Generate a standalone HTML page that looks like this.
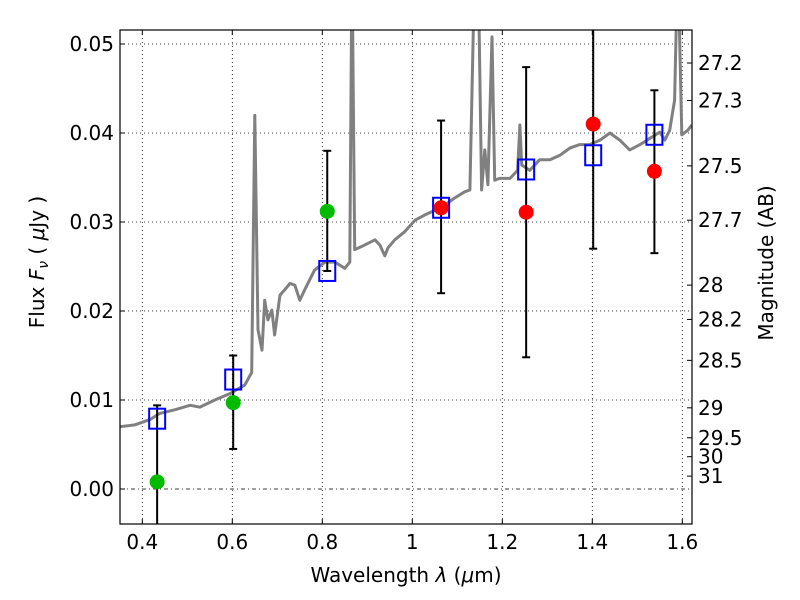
<!DOCTYPE html>
<html><head><meta charset="utf-8"><style>
body{margin:0;background:#fff;}
svg{display:block;font-family:"DejaVu Sans","Liberation Sans",sans-serif;}
</style></head><body>
<svg id="chart" width="800" height="600" viewBox="0 0 800 600"></svg>
<script>
const xTicks=[0.4,0.6,0.8,1.0,1.2,1.4,1.6];
const xTickLabels=["0.4","0.6","0.8","1","1.2","1.4","1.6"];
const yTicks=[0,0.01,0.02,0.03,0.04,0.05];
const yTickLabels=["0.00","0.01","0.02","0.03","0.04","0.05"];
const magTicks=[27.2,27.3,27.5,27.7,28,28.2,28.5,29,29.5,30,31];
const magLabels=["27.2","27.3","27.5","27.7","28","28.2","28.5","29","29.5","30","31"];
const bandWave=[0.433,0.602,0.811,1.064,1.253,1.402,1.538];
const modelFlux=[0.0079,0.0123,0.0245,0.0316,0.0359,0.0375,0.0398];
const errHigh=[0.0094,0.015,0.038,0.0414,0.0474,0.06,0.0448];
const errLow=[-0.01,0.0045,0.0245,0.022,0.0148,0.027,0.0265];
const greenWave=[0.433,0.602,0.811];
const greenFlux=[0.0008,0.0097,0.0312];
const redWave=[1.064,1.253,1.402,1.538];
const redFlux=[0.0316,0.0311,0.0410,0.0357];
const specWave=[0.35,0.383,0.417,0.439,0.472,0.506,0.528,0.561,0.594,0.628,0.643,0.65,0.657,0.666,0.672,0.679,0.688,0.694,0.706,0.717,0.728,0.739,0.75,0.761,0.783,0.806,0.828,0.85,0.861,0.866,0.872,0.894,0.917,0.928,0.939,0.946,0.961,0.983,1.006,1.028,1.05,1.072,1.094,1.117,1.128,1.139,1.146,1.154,1.161,1.168,1.177,1.183,1.194,1.217,1.234,1.239,1.243,1.261,1.283,1.306,1.328,1.35,1.372,1.394,1.417,1.439,1.461,1.483,1.506,1.528,1.55,1.561,1.572,1.583,1.59,1.599,1.612,1.621];
const specFlux=[0.0070,0.0072,0.0078,0.0085,0.0089,0.0094,0.0092,0.0100,0.0107,0.0117,0.0131,0.0420,0.0179,0.0156,0.0212,0.0190,0.0201,0.0173,0.0218,0.0224,0.0231,0.0229,0.0212,0.0224,0.0246,0.0255,0.0255,0.0248,0.0255,0.06,0.0269,0.0274,0.0280,0.0274,0.0262,0.0271,0.0280,0.0289,0.0302,0.0308,0.0313,0.0319,0.0327,0.0334,0.0336,0.06,0.06,0.0336,0.0381,0.0342,0.0508,0.0347,0.0349,0.0349,0.0358,0.0409,0.0364,0.0358,0.0370,0.0370,0.0375,0.0383,0.0387,0.0387,0.0392,0.0400,0.0392,0.0381,0.0387,0.0394,0.0401,0.0392,0.0403,0.0437,0.06,0.0398,0.0403,0.0409];

const L=120,R=692,T=30,B=524;
const X=v=>142.3+(v-0.4)*450;
const Y=v=>489-v*8900;
const svg=document.getElementById('chart');
const NS='http://www.w3.org/2000/svg';
function mk(tag,attrs,parent){const e=document.createElementNS(NS,tag);for(const k in attrs)e.setAttribute(k,attrs[k]);(parent||svg).appendChild(e);return e;}
const defs=mk('defs',{});const cp=mk('clipPath',{id:'pc'},defs);mk('rect',{x:L,y:T,width:R-L,height:B-T},cp);

xTicks.forEach((t,i)=>{
 let g=mk('line',{x1:X(t),x2:X(t),y1:T,y2:B,stroke:'#000','stroke-dasharray':'1,3','stroke-width':0.8});
 
 mk('line',{x1:X(t),x2:X(t),y1:B,y2:B-5,stroke:'#000'});mk('line',{x1:X(t),x2:X(t),y1:T,y2:T+5,stroke:'#000'});
 let lb=mk('text',{x:X(t),y:B+25,'text-anchor':'middle','font-size':20});lb.textContent=xTickLabels[i];
 
});
yTicks.forEach((t,i)=>{
 let g=mk('line',{x1:L,x2:R,y1:Y(t),y2:Y(t),stroke:'#000','stroke-dasharray':t===0?'4,3,1,3':'1,3','stroke-width':0.8});
 
 mk('line',{x1:L,x2:L+5,y1:Y(t),y2:Y(t),stroke:'#000'});
 let lb=mk('text',{x:L-6,y:Y(t)+7,'text-anchor':'end','font-size':20});lb.textContent=yTickLabels[i];
 
});
magTicks.forEach((m,i)=>{
 const f=Math.pow(10,(23.9-m)/2.5);const y=Y(f);
 mk('line',{x1:R-5,x2:R,y1:y,y2:y,stroke:'#000'});
 let lb=mk('text',{x:R+6,y:y+7,'font-size':20});lb.textContent=magLabels[i];
 
});

const pg=mk('g',{'clip-path':'url(#pc)'});
let d='';specWave.forEach((w,i)=>{d+=(i?'L':'M')+X(w).toFixed(1)+','+Y(specFlux[i]).toFixed(1);});
let sp=mk('path',{d:d,fill:'none',stroke:'#808080','stroke-width':3,'stroke-linejoin':'round'},pg);


bandWave.forEach((w,i)=>{
 let e=mk('g',{},pg);
 mk('line',{x1:X(w),x2:X(w),y1:Y(errHigh[i]),y2:Y(errLow[i]),stroke:'#000','stroke-width':2},e);
 [errHigh[i],errLow[i]].forEach(v=>mk('line',{x1:X(w)-4,x2:X(w)+4,y1:Y(v),y2:Y(v),stroke:'#000','stroke-width':2},e));
});
bandWave.forEach((w,i)=>{
 let r=mk('rect',{x:X(w)-8,y:Y(modelFlux[i])-10,width:16,height:20,fill:'none',stroke:'#0000ff','stroke-width':2},pg);
 
});
greenWave.forEach((w,i)=>{let c=mk('circle',{cx:X(w),cy:Y(greenFlux[i]),r:7.5,fill:'#00bb00'},pg);
 });
redWave.forEach((w,i)=>{let c=mk('circle',{cx:X(w),cy:Y(redFlux[i]),r:7.5,fill:'#ff0000'},pg);
 });

let fr=mk('rect',{x:L,y:T,width:R-L,height:B-T,fill:'none',stroke:'#000','stroke-width':1.2});

let xt=mk('text',{x:406,y:582,'text-anchor':'middle','font-size':20});xt.innerHTML='Wavelength  <tspan font-style="italic">λ</tspan> (<tspan font-style="italic">μ</tspan>m)';

let yt=mk('text',{x:0,y:0,'text-anchor':'middle','font-size':20,transform:'translate(44,262) rotate(-90)'});yt.innerHTML='Flux  <tspan font-style="italic">F</tspan><tspan font-style="italic" font-size="14" dy="4">ν</tspan><tspan dy="-4">  (  </tspan><tspan font-style="italic">μ</tspan>Jy )';

let mt=mk('text',{x:0,y:0,'text-anchor':'middle','font-size':20,transform:'translate(773,263) rotate(-90)'});mt.textContent='Magnitude (AB)';

</script>
</body></html>
